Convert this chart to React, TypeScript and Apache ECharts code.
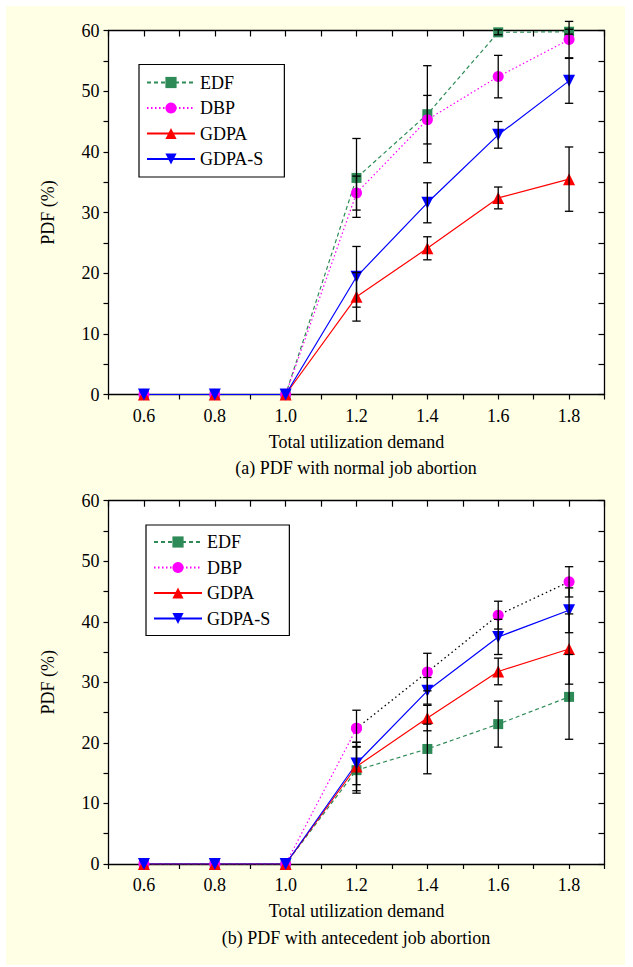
import React, { useEffect, useRef } from "react";
import * as echarts from "echarts";

const xValues = [0.6, 0.8, 1.0, 1.2, 1.4, 1.6, 1.8];
const seriesNames = ["EDF", "DBP", "GDPA", "GDPA-S"];

// (a) normal job abortion
const aEDF = [0, 0, 0, 35.7, 46.2, 59.7, 59.8];
const aDBP = [0, 0, 0, 33.2, 45.3, 52.4, 58.5];
const aGDPA = [0, 0, 0, 16.1, 24.1, 32.4, 35.5];
const aGDPAS = [0, 0, 0, 19.4, 31.6, 42.8, 51.7];
const aEDFErr = [0, 0, 0, 6.5, 8.0, 0.4, 0.4];
const aDBPErr = [0, 0, 0, 2.8, 4.0, 3.5, 3.0];
const aGDPAErr = [0, 0, 0, 4.0, 1.9, 1.8, 5.3];
const aGDPASErr = [0, 0, 0, 5.0, 3.3, 2.2, 3.7];

// (b) antecedent job abortion
const bEDF = [0, 0, 0, 15.5, 19.0, 23.1, 27.6];
const bDBP = [0, 0, 0, 22.4, 31.7, 41.1, 46.6];
const bGDPA = [0, 0, 0, 16.1, 24.1, 31.8, 35.5];
const bGDPAS = [0, 0, 0, 16.6, 28.6, 37.5, 41.9];
const bEDFErr = [0, 0, 0, 3.8, 4.1, 3.8, 7.0];
const bDBPErr = [0, 0, 0, 3.0, 3.1, 2.3, 2.5];
const bGDPAErr = [0, 0, 0, 4.0, 2.1, 2.2, 5.8];
const bGDPASErr = [0, 0, 0, 3.5, 2.2, 2.9, 3.7];

const yTickLabels = [0, 10, 20, 30, 40, 50, 60];
const xTickLabels = ["0.6", "0.8", "1.0", "1.2", "1.4", "1.6", "1.8"];

const captionA = "(a) PDF with normal job abortion";
const captionB = "(b) PDF with antecedent job abortion";
const xName = "Total utilization demand";
const yName = "PDF (%)";

const FONT = "Liberation Serif";
const GREEN = "#2E8B57";
const MAGENTA = "#FF00FF";
const RED = "#FF0000";
const BLUE = "#0000FF";
const DASH = [4, 3];
const DOT = [1.5, 2.5];

const pairs = (vals: number[]) => xValues.map((x, i) => [x, vals[i]]);

function errData(vals: number[][], errs: number[][]) {
  const out: number[][] = [];
  vals.forEach((v, s) => {
    xValues.forEach((x, i) => {
      if (errs[s][i] > 0) out.push([x, v[i], errs[s][i]]);
    });
  });
  return out;
}

function axesFor(grid: number) {
  const xLabelFmt = (v: number) => {
    const t = Math.round(v * 10);
    const s = (t / 10).toFixed(1);
    return xTickLabels.includes(s) ? s : "";
  };
  const yLabelFmt = (v: number) =>
    yTickLabels.includes(Math.round(v)) && Math.abs(v - Math.round(v)) < 1e-6 ? String(Math.round(v)) : "";
  const line = { show: true, onZero: false, lineStyle: { color: "#000", width: 1.3 } };
  const textStyle = { color: "#000", fontFamily: FONT, fontSize: 18 };
  const xBottom = {
    type: "value",
    gridIndex: grid,
    position: "bottom",
    min: 0.5,
    max: 1.9,
    interval: 0.1,
    axisLine: line,
    axisTick: { show: true, inside: false, length: 5, lineStyle: { color: "#000", width: 1.2 } },
    axisLabel: { formatter: xLabelFmt, ...textStyle, margin: 12 },
    splitLine: { show: false },
    name: xName,
    nameLocation: "middle",
    nameGap: 38,
    nameTextStyle: textStyle,
  };
  const xTop = {
    type: "value",
    gridIndex: grid,
    position: "top",
    min: 0.5,
    max: 1.9,
    interval: 0.1,
    axisLine: line,
    axisTick: { show: true, inside: true, length: 6, lineStyle: { color: "#000", width: 1.2 } },
    axisLabel: { show: false },
    splitLine: { show: false },
  };
  const yLeft = {
    type: "value",
    gridIndex: grid,
    position: "left",
    min: 0,
    max: 60,
    interval: 5,
    axisLine: line,
    axisTick: { show: true, inside: false, length: 5, lineStyle: { color: "#000", width: 1.2 } },
    axisLabel: { formatter: yLabelFmt, ...textStyle, margin: 9 },
    splitLine: { show: false },
    name: yName,
    nameLocation: "middle",
    nameGap: 52,
    nameTextStyle: textStyle,
  };
  const yRight = {
    type: "value",
    gridIndex: grid,
    position: "right",
    min: 0,
    max: 60,
    interval: 5,
    axisLine: line,
    axisTick: { show: true, inside: true, length: 6, lineStyle: { color: "#000", width: 1.2 } },
    axisLabel: { show: false },
    splitLine: { show: false },
  };
  return { x: [xBottom, xTop], y: [yLeft, yRight] };
}

function lineSeries(name: string, data: any[], color: string, type: any, symbol: string, size: number, xi: number, yi: number, extra: any = {}) {
  return {
    type: "line",
    name,
    data,
    xAxisIndex: xi,
    yAxisIndex: yi,
    symbol,
    symbolSize: size,
    showSymbol: true,
    itemStyle: { color },
    lineStyle: { color, width: 1.2, type },
    z: 2,
    ...extra,
  };
}

function errSeries(data: number[][], xi: number, yi: number) {
  return {
    type: "custom",
    xAxisIndex: xi,
    yAxisIndex: yi,
    data,
    z: 4,
    silent: true,
    renderItem: (params: any, api: any) => {
      const x = api.value(0);
      const y = api.value(1);
      const e = api.value(2);
      const top = api.coord([x, y + e]);
      const bot = api.coord([x, y - e]);
      const w = 4.2;
      const style = { stroke: "#000", lineWidth: 1.3 };
      return {
        type: "group",
        children: [
          { type: "line", shape: { x1: top[0], y1: top[1], x2: bot[0], y2: bot[1] }, style },
          { type: "line", shape: { x1: top[0] - w, y1: top[1], x2: top[0] + w, y2: top[1] }, style },
          { type: "line", shape: { x1: bot[0] - w, y1: bot[1], x2: bot[0] + w, y2: bot[1] }, style },
        ],
      };
    },
  };
}

function legendFor(left: number, top: number, padding: number[]) {
  return {
    orient: "vertical",
    left,
    top,
    data: seriesNames,
    itemWidth: 48,
    itemHeight: 14,
    itemGap: 7.5,
    padding,
    backgroundColor: "#fff",
    borderColor: "#000",
    borderWidth: 1.2,
    borderRadius: 0,
    textStyle: { color: "#000", fontFamily: FONT, fontSize: 18 },
    selectedMode: false,
  };
}

export default function App() {
  const ref = useRef<HTMLDivElement>(null);
  useEffect(() => {
    if (!ref.current) return;
    const chart = echarts.init(ref.current, null, { renderer: "svg" });
    const a0 = axesFor(0);
    const a1 = axesFor(1);

    const bDBPHead = xValues.map((x, i) => (i <= 3 ? [x, bDBP[i]] : [x, null]));
    const bDBPTail = xValues.map((x, i) => (i >= 3 ? [x, bDBP[i]] : [x, null]));

    const option: any = {
      animation: false,
      backgroundColor: "#fff",
      textStyle: { fontFamily: FONT },
      graphic: [
        { type: "rect", z: -10, shape: { x: 6, y: 6, width: 619, height: 959 }, style: { fill: "#FFFFE6" }, silent: true },
        { type: "text", z: 10, style: { text: captionA, x: 356, y: 468, fill: "#000", fontFamily: FONT, fontSize: 18, textAlign: "center", textVerticalAlign: "middle" } },
        { type: "text", z: 10, style: { text: captionB, x: 356, y: 938, fill: "#000", fontFamily: FONT, fontSize: 18, textAlign: "center", textVerticalAlign: "middle" } },
      ],
      grid: [
        { left: 108.5, top: 30.5, width: 496, height: 364, show: true, backgroundColor: "#fff", borderWidth: 0 },
        { left: 108.5, top: 500.7, width: 496, height: 363.3, show: true, backgroundColor: "#fff", borderWidth: 0 },
      ],
      xAxis: [...a0.x, ...a1.x],
      yAxis: [...a0.y, ...a1.y],
      legend: [legendFor(139, 64.5, [9, 21, 9, 7]), legendFor(146, 525, [8, 19, 8, 7])],
      series: [
        // chart (a)
        lineSeries("EDF", pairs(aEDF), GREEN, DASH, "rect", 10, 0, 0),
        lineSeries("DBP", pairs(aDBP), MAGENTA, DOT, "circle", 11, 0, 0),
        lineSeries("GDPA", pairs(aGDPA), RED, "solid", "triangle", 12, 0, 0),
        lineSeries("GDPA-S", pairs(aGDPAS), BLUE, "solid", "triangle", 12, 0, 0, { symbolRotate: 180 }),
        errSeries(errData([aEDF, aDBP, aGDPA, aGDPAS], [aEDFErr, aDBPErr, aGDPAErr, aGDPASErr]), 0, 0),
        // chart (b)
        lineSeries("EDF", pairs(bEDF), GREEN, DASH, "rect", 10, 2, 2),
        lineSeries("DBP", bDBPHead, MAGENTA, DOT, "circle", 11, 2, 2),
        lineSeries("DBP-tail", bDBPTail, MAGENTA, DOT, "circle", 11, 2, 2, { lineStyle: { color: "#000", width: 1.3, type: [1.5, 3] } }),
        lineSeries("GDPA", pairs(bGDPA), RED, "solid", "triangle", 12, 2, 2),
        lineSeries("GDPA-S", pairs(bGDPAS), BLUE, "solid", "triangle", 12, 2, 2, { symbolRotate: 180 }),
        errSeries(errData([bEDF, bDBP, bGDPA, bGDPAS], [bEDFErr, bDBPErr, bGDPAErr, bGDPASErr]), 2, 2),
      ],
    };
    chart.setOption(option);
    return () => chart.dispose();
  }, []);
  return <div ref={ref} style={{ position: "fixed", left: 0, top: 0, width: 633, height: 967 }} />;
}
